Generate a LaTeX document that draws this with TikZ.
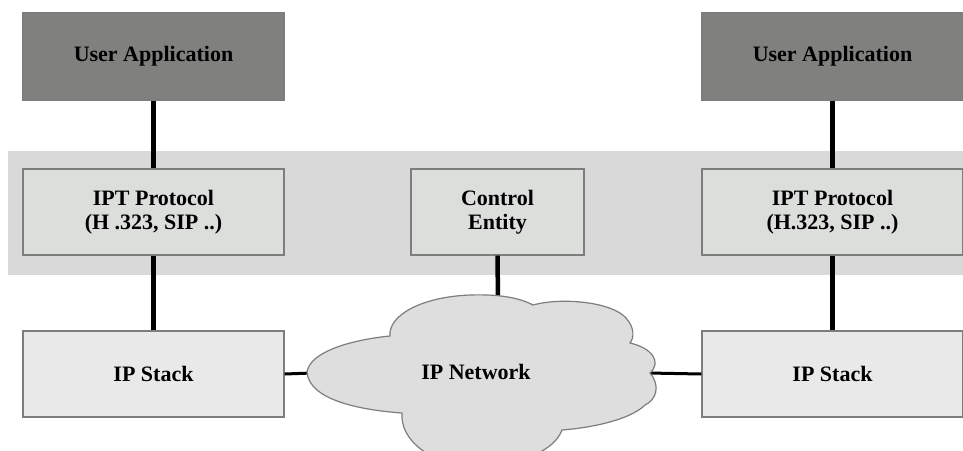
\documentclass[tikz,border=0pt]{standalone}
\usepackage{fontspec}
\setmainfont{Liberation Serif}
\definecolor{uafill}{RGB}{128,129,126}
\definecolor{iptfill}{RGB}{220,222,220}
\definecolor{bandfill}{RGB}{217,217,217}
\definecolor{ipsfill}{RGB}{233,233,233}
\definecolor{cloudfill}{RGB}{222,222,222}
\definecolor{edgegray}{RGB}{125,125,125}
\begin{document}
\begin{tikzpicture}[x=1pt,y=-1pt,
  boxbase/.style={rectangle, draw=edgegray, line width=1.2pt, inner sep=0pt,
    align=center, font=\fontsize{22}{24}\selectfont\bfseries},
  uabox/.style={boxbase, fill=uafill, minimum width=261pt, minimum height=87pt},
  iptbox/.style={boxbase, fill=iptfill, minimum width=261pt, minimum height=86pt},
  ipsbox/.style={boxbase, fill=ipsfill, minimum width=261pt, minimum height=86pt},
  cebox/.style={boxbase, fill=iptfill, minimum width=173pt, minimum height=86pt},
  vlink/.style={line width=4.5pt, black},
  hlink/.style={line width=3pt, black},
  cloudtext/.style={font=\fontsize{22}{24}\selectfont\bfseries}
]
\useasboundingbox (0,0) rectangle (963,450);
\clip (0,0) rectangle (963,450);
% band
\fill[bandfill] (8,151) rectangle (963,275);
% nodes
\node[uabox] (ua1) at (153.5,56.5) {User Application};
\node[uabox] (ua2) at (832.5,56.5) {User Application};
\node[iptbox] (ipt1) at (153.5,212) {IPT Protocol\\(H .323, SIP ..)};
\node[iptbox] (ipt2) at (832.5,212) {IPT Protocol\\(H.323, SIP ..)};
\node[cebox] (ce) at (497.5,212) {Control\\Entity};
\node[ipsbox] (ips1) at (153.5,374) {IP Stack};
\node[ipsbox] (ips2) at (832.5,374) {IP Stack};
% cloud anchor coordinates
\coordinate (cloudtop) at (498,300);
\coordinate (cloudleft) at (312,373);
\coordinate (cloudright) at (648,373);
% connectors
\draw[vlink] (ua1.south) -- (ipt1.north);
\draw[vlink] (ipt1.south) -- (ips1.north);
\draw[vlink] (ua2.south) -- (ipt2.north);
\draw[vlink] (ipt2.south) -- (ips2.north);
\draw[vlink] (ce.south) -- (cloudtop);
\draw[hlink] (ips1.east) -- (cloudleft);
\draw[hlink] (cloudright) -- (ips2.west);
% cloud
\draw[fill=cloudfill, draw=edgegray, line width=1.2pt]
  (307,372)
  .. controls (310,352) and (350,340) .. (390,336)
  .. controls (388,316) and (420,297) .. (470,295)
  .. controls (500,294) and (520,298) .. (533,305)
  .. controls (562,297) and (612,302) .. (626,318)
  .. controls (635,328) and (634,338) .. (630,343)
  .. controls (652,348) and (662,362) .. (650,373)
  .. controls (661,386) and (656,400) .. (645,405)
  .. controls (630,420) and (590,428) .. (562,430)
  .. controls (555,450) and (520,466) .. (480,466)
  .. controls (430,466) and (400,440) .. (402,413)
  .. controls (360,410) and (309,400) .. (307,372) -- cycle;
\node[cloudtext] (net) at (476,372) {IP Network};
\end{tikzpicture}
\end{document}
